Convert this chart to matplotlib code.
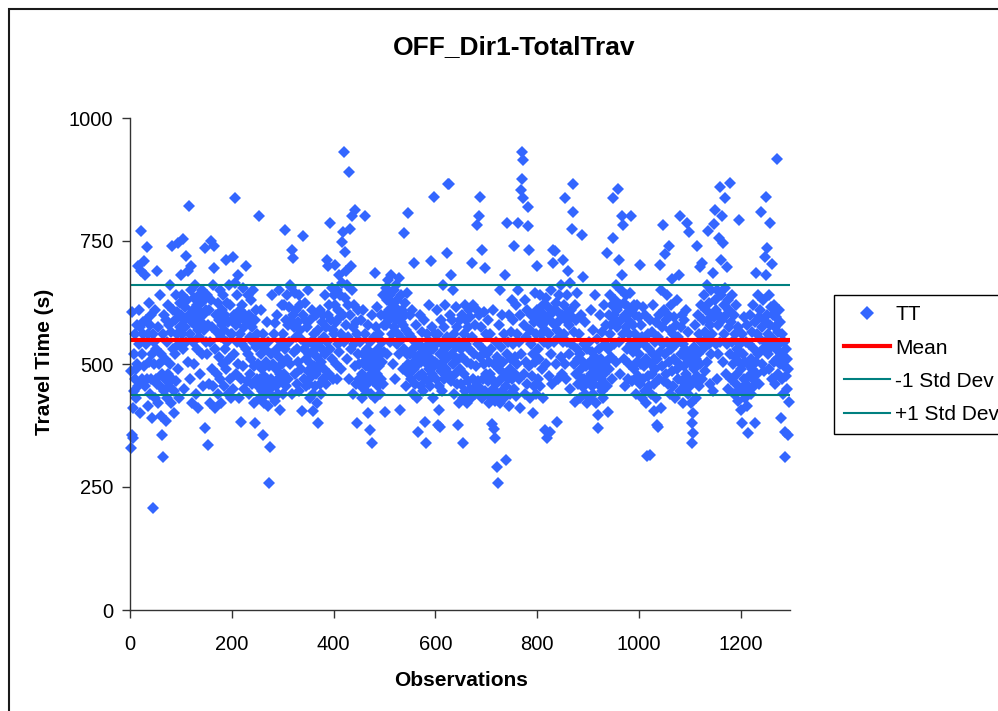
import matplotlib
matplotlib.use("Agg")
import matplotlib.pyplot as plt
from matplotlib.patches import Rectangle
from matplotlib.lines import Line2D

title = "OFF_Dir1-TotalTrav"
x_label = "Observations"
y_label = "Travel Time (s)"
series_names = ["TT", "Mean", "-1 Std Dev", "+1 Std Dev"]
x_ticks = [0, 200, 400, 600, 800, 1000, 1200]
y_ticks = [0, 250, 500, 750, 1000]

mean_tt = 548
minus_sd = 437
plus_sd = 660

travel_time = [
    330, 485, 355, 605, 410, 350, 520, 445, 470, 560, 430, 490, 580, 500, 700, 455, 540, 610, 400, 575, 690, 770, 520, 470, 560, 585, 710, 495, 455, 680, 540, 590, 737, 470, 415, 560, 505, 625, 440, 580, 600, 470, 520, 390, 560, 207, 545, 500, 430, 610,
    470, 530, 690, 460, 575, 420, 500, 640, 455, 520, 395, 355, 480, 310, 560, 445, 600, 510, 470, 385, 590, 430, 545, 620, 480, 455, 580, 660, 500, 420, 565, 740, 470, 530, 610, 445, 400, 590, 520, 640, 465, 560, 605, 490, 745, 540, 430, 625, 575, 680,
    600, 560, 640, 530, 755, 590, 450, 615, 575, 720, 545, 630, 690, 505, 600, 822, 560, 470, 650, 700, 585, 420, 610, 545, 635, 500, 580, 660, 440, 595, 620, 530, 570, 410, 640, 555, 605, 480, 625, 585, 520, 650, 455, 600, 570, 630, 735, 370, 545, 610,
    520, 640, 335, 580, 460, 610, 545, 420, 630, 750, 490, 575, 660, 455, 740, 695, 530, 410, 600, 565, 480, 625, 440, 590, 515, 650, 470, 555, 420, 610, 580, 500, 640, 455, 570, 530, 600, 712, 490, 545, 625, 440, 585, 660, 510, 470, 620, 560, 430, 590,
    560, 450, 718, 600, 520, 837, 665, 580, 480, 640, 545, 681, 500, 590, 430, 610, 560, 470, 383, 620, 540, 655, 495, 575, 450, 600, 530, 700, 465, 585, 640, 520, 440, 600, 555, 480, 630, 510, 575, 460, 545, 650, 495, 420, 590, 380, 535, 610, 470, 560,
    500, 455, 540, 800, 470, 430, 520, 610, 445, 490, 560, 356, 475, 420, 530, 460, 505, 440, 585, 470, 415, 545, 258, 495, 332, 450, 520, 470, 640, 435, 500, 560, 460, 425, 583, 490, 455, 530, 600, 470, 440, 515, 650, 480, 407, 545, 465, 620, 500, 440,
    560, 480, 620, 530, 773, 590, 455, 640, 510, 580, 470, 615, 545, 500, 660, 657, 590, 732, 440, 600, 715, 525, 575, 480, 645, 555, 610, 460, 530, 585, 505, 640, 445, 570, 620, 490, 550, 405, 600, 760, 530, 470, 590, 625, 510, 455, 575, 540, 650, 485,
    520, 460, 590, 430, 545, 500, 610, 475, 440, 405, 560, 495, 530, 455, 600, 480, 420, 515, 570, 380, 490, 545, 460, 610, 505, 440, 585, 530, 470, 600, 555, 490, 640, 520, 575, 460, 711, 545, 600, 700, 480, 620, 787, 530, 590, 655, 510, 570, 470, 640,
    560, 620, 701, 500, 585, 650, 470, 540, 610, 680, 525, 595, 640, 490, 560, 665, 748, 768, 600, 931, 545, 728, 635, 580, 690, 510, 660, 555, 620, 890, 470, 600, 775, 700, 530, 800, 650, 575, 440, 620, 540, 813, 495, 585, 460, 380, 560, 520, 610, 470,
    500, 545, 455, 590, 480, 430, 520, 610, 470, 505, 560, 800, 445, 495, 530, 460, 580, 400, 510, 475, 545, 366, 490, 440, 600, 339, 520, 465, 555, 500, 685, 430, 575, 510, 480, 615, 455, 530, 495, 560, 440, 520, 600, 470, 545, 505, 640, 460, 580, 525,
    402, 600, 655, 580, 630, 520, 670, 610, 590, 545, 640, 600, 680, 560, 625, 500, 595, 650, 575, 615, 470, 660, 590, 540, 630, 605, 560, 675, 520, 600, 407, 585, 640, 550, 610, 490, 580, 767, 530, 625, 600, 455, 570, 520, 645, 807, 500, 560, 480, 600,
    520, 470, 555, 500, 610, 440, 530, 705, 490, 545, 460, 580, 515, 430, 500, 362, 540, 475, 600, 520, 455, 505, 565, 480, 530, 445, 590, 510, 470, 382, 535, 340, 500, 560, 465, 525, 620, 490, 455, 545, 709, 510, 480, 575, 430, 530, 495, 840, 560, 505,
    540, 470, 610, 500, 376, 560, 455, 407, 372, 520, 590, 485, 540, 445, 660, 505, 575, 470, 530, 620, 490, 555, 726, 515, 866, 480, 865, 600, 540, 680, 465, 520, 590, 500, 650, 440, 560, 505, 480, 615, 535, 460, 575, 376, 510, 545, 420, 590, 490, 530,
    460, 600, 515, 430, 340, 560, 480, 620, 445, 540, 590, 420, 505, 575, 465, 610, 530, 450, 595, 500, 430, 705, 555, 470, 620, 520, 440, 580, 495, 455, 610, 782, 540, 465, 600, 800, 515, 840, 450, 575, 430, 732, 530, 470, 605, 500, 445, 695, 560, 480,
    520, 440, 590, 465, 505, 420, 560, 480, 435, 530, 378, 470, 610, 450, 368, 500, 425, 350, 545, 460, 291, 515, 258, 440, 580, 490, 420, 650, 470, 535, 445, 600, 505, 430, 560, 480, 680, 455, 305, 520, 787, 470, 545, 415, 600, 490, 440, 565, 510, 630,
    470, 540, 590, 450, 740, 515, 480, 620, 435, 560, 500, 650, 787, 470, 545, 410, 600, 520, 853, 930, 876, 915, 837, 480, 580, 440, 630, 505, 555, 460, 610, 819, 780, 731, 495, 570, 430, 540, 600, 475, 520, 400, 585, 455, 645, 505, 560, 440, 610, 700,
    530, 470, 595, 510, 640, 455, 560, 605, 490, 580, 620, 430, 545, 600, 365, 570, 500, 635, 350, 590, 540, 615, 475, 560, 362, 600, 520, 650, 585, 460, 731, 705, 610, 545, 730, 580, 500, 625, 382, 570, 605, 470, 640, 555, 590, 515, 660, 480, 600, 545,
    712, 560, 620, 500, 837, 590, 470, 640, 545, 605, 690, 520, 580, 450, 665, 610, 540, 595, 774, 866, 809, 500, 565, 422, 620, 480, 590, 530, 645, 460, 510, 475, 560, 430, 520, 490, 600, 762, 455, 677, 505, 470, 540, 440, 585, 495, 460, 530, 420, 500,
    470, 545, 430, 505, 610, 480, 455, 525, 440, 570, 490, 460, 640, 515, 475, 420, 550, 500, 397, 370, 485, 530, 455, 600, 470, 510, 445, 565, 495, 430, 620, 480, 540, 460, 505, 580, 455, 726, 402, 530, 600, 490, 560, 640, 515, 580, 470, 620, 756, 837,
    600, 540, 630, 590, 660, 505, 610, 575, 856, 712, 545, 620, 480, 650, 590, 680, 800, 782, 560, 625, 510, 600, 455, 575, 640, 530, 600, 470, 615, 560, 500, 645, 585, 540, 800, 610, 465, 580, 525, 620, 490, 560, 600, 440, 535, 505, 620, 475, 550, 595,
    520, 701, 460, 580, 500, 430, 555, 615, 470, 540, 495, 445, 600, 510, 420, 313, 560, 475, 530, 455, 590, 315, 500, 440, 565, 480, 620, 520, 460, 405, 545, 490, 585, 430, 510, 376, 555, 372, 600, 470, 701, 525, 650, 410, 575, 495, 783, 540, 610, 465,
    723, 520, 590, 480, 640, 545, 460, 600, 740, 505, 570, 440, 620, 530, 485, 672, 560, 455, 595, 510, 430, 580, 540, 490, 630, 470, 555, 680, 500, 445, 800, 575, 520, 600, 465, 540, 420, 590, 495, 530, 455, 610, 480, 787, 510, 440, 565, 768, 470, 520,
    455, 500, 420, 340, 380, 360, 400, 490, 535, 465, 580, 430, 510, 740, 475, 600, 520, 455, 560, 697, 500, 620, 545, 705, 470, 590, 530, 640, 565, 485, 610, 550, 660, 505, 770, 590, 540, 625, 460, 580, 650, 520, 600, 560, 445, 685, 785, 595, 813, 630,
    540, 610, 470, 650, 580, 520, 756, 600, 860, 545, 640, 712, 800, 590, 505, 746, 620, 560, 837, 655, 480, 600, 697, 540, 630, 450, 575, 610, 868, 520, 585, 470, 640, 545, 500, 600, 440, 560, 515, 620, 460, 530, 480, 575, 425, 505, 793, 450, 540, 407,
    490, 380, 560, 445, 520, 470, 595, 430, 505, 545, 460, 580, 415, 360, 500, 475, 540, 450, 600, 510, 440, 565, 490, 620, 470, 530, 455, 380, 585, 685, 505, 560, 480, 640, 520, 595, 460, 550, 610, 809, 500, 575, 530, 630, 485, 590, 545, 718, 680, 840,
    600, 736, 560, 520, 640, 490, 580, 786, 615, 535, 470, 703, 600, 550, 505, 620, 575, 460, 530, 595, 510, 917, 565, 480, 610, 540, 500, 585, 390, 520, 470, 560, 505, 440, 545, 495, 311, 362, 530, 475, 510, 450, 356, 490, 423,
]
observations = list(range(1, len(travel_time) + 1))

W, H = 998, 711
fig = plt.figure(figsize=(W / 100, H / 100), dpi=100)
plt.rcParams["font.family"] = ["Liberation Sans", "DejaVu Sans"]

# outer chart frame
fig.patches.append(Rectangle((9 / W, -0.05), 1.2, 1 - 9 / H + 0.05, transform=fig.transFigure,
                             fill=False, edgecolor="#1a1a1a", linewidth=1.5))

left, right, top, bottom = 130 / W, 790 / W, 1 - 118 / H, 1 - 610 / H
ax = fig.add_axes([left, bottom, right - left, top - bottom])

ax.plot(observations, travel_time, linestyle="none", marker="D", markersize=6.3,
        color="#3366FF", markeredgewidth=0, label=series_names[0], clip_on=False)
xmax = 1297
ax.plot([0, xmax], [mean_tt, mean_tt], color="#FF0000", linewidth=3, label=series_names[1])
ax.plot([0, xmax], [minus_sd, minus_sd], color="#008080", linewidth=1.5, label=series_names[2])
ax.plot([0, xmax], [plus_sd, plus_sd], color="#008080", linewidth=1.5, label=series_names[3])

ax.set_xlim(0, xmax)
ax.set_ylim(0, 1000)
ax.set_xticks(x_ticks)
ax.set_yticks(y_ticks)
for s in ["top", "right"]:
    ax.spines[s].set_visible(False)
for s in ["left", "bottom"]:
    ax.spines[s].set_color("#333333")
    ax.spines[s].set_linewidth(1.0)
ax.tick_params(axis="both", direction="out", length=6, width=1.0, color="#333333",
               labelsize=14.5)
ax.tick_params(axis="y", pad=6)
ax.tick_params(axis="x", pad=12)
ax.set_facecolor("none")

fig.text(514 / W, 1 - 47 / H, title, ha="center", va="center", fontsize=19, fontweight="bold")
fig.text(461 / W, 1 - 680 / H, x_label, ha="center", va="center", fontsize=15, fontweight="bold")
fig.text(45 / W, 1 - 362 / H, y_label, ha="center", va="center", fontsize=15, fontweight="bold",
         rotation=90)

handles = [
    Line2D([], [], linestyle="none", marker="D", markersize=7, color="#3366FF", markeredgewidth=0),
    Line2D([], [], color="#FF0000", linewidth=3),
    Line2D([], [], color="#008080", linewidth=1.5),
    Line2D([], [], color="#008080", linewidth=1.5),
]
leg = fig.legend(handles, series_names, loc="upper left", bbox_to_anchor=(834 / W, 1 - 295 / H),
                 frameon=True, fancybox=False, edgecolor="black", fontsize=15,
                 handlelength=2.2, handletextpad=0.25, labelspacing=0.68, borderpad=0.5,
                 borderaxespad=0, framealpha=1)
leg.get_frame().set_linewidth(1.0)

fig.savefig("out.png", dpi=100)
